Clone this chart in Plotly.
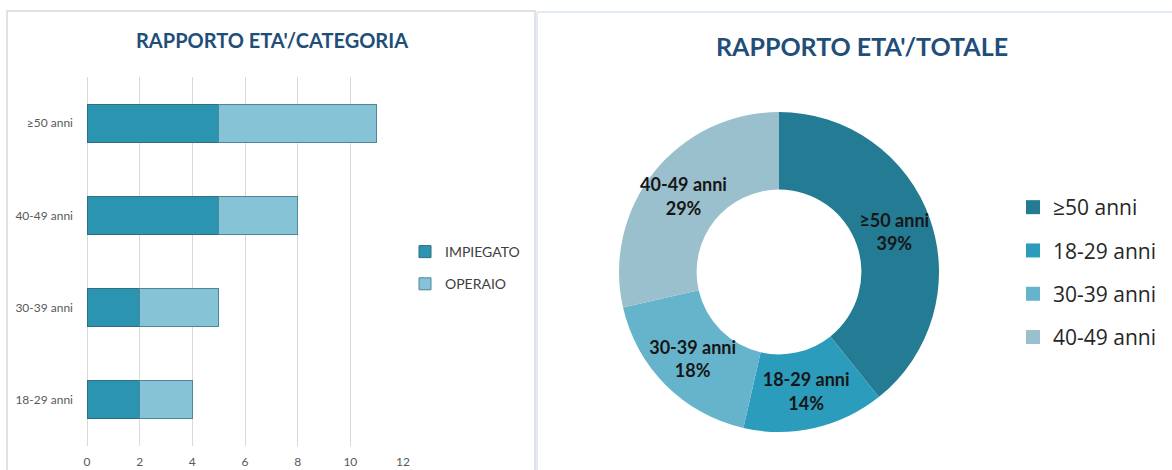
import plotly.graph_objects as go

W, H = 1172, 470

# ---- data ----
categories = ["18-29 anni", "30-39 anni", "40-49 anni", "≥50 anni"]
impiegato = [2, 2, 5, 5]
operaio = [2, 3, 3, 6]
x_ticks = [0, 2, 4, 6, 8, 10, 12]

pie_labels = ["≥50 anni", "18-29 anni", "30-39 anni", "40-49 anni"]
pie_values = [11, 4, 5, 8]
pie_colors = ["#237C94", "#2C9CBC", "#66B3CC", "#9BC0CD"]

col_imp = "#2B95B1"
col_ope = "#86C3D6"


def px_x(v):
    return v / W


def px_y(v):
    return 1 - v / H


fig = go.Figure()

fig.add_trace(go.Bar(
    y=categories, x=impiegato, name="IMPIEGATO", orientation="h",
    marker=dict(color=col_imp, line=dict(color="#2F6E80", width=1)),
    legendgroup="imp", hoverinfo="x+y+name",
))
fig.add_trace(go.Bar(
    y=categories, x=operaio, name="OPERAIO", orientation="h",
    marker=dict(color=col_ope, line=dict(color="#4E8797", width=1)),
    legendgroup="ope", hoverinfo="x+y+name",
))

# donut ring
fig.add_trace(go.Pie(
    labels=pie_labels, values=pie_values, hole=0.515, sort=False,
    direction="clockwise", rotation=0,
    marker=dict(colors=pie_colors, line=dict(width=0)),
    textinfo="none",
    domain=dict(x=[px_x(619), px_x(939)], y=[px_y(432), px_y(112)]),
    showlegend=False,
))

# transparent companion ring carrying the slice labels (same data, same centre)
fig.add_trace(go.Pie(
    labels=pie_labels, values=pie_values, hole=0.42, sort=False,
    direction="clockwise", rotation=0,
    marker=dict(colors=["rgba(0,0,0,0)"] * len(pie_values), line=dict(width=0)),
    texttemplate="%{label}<br>%{percent:.0%}",
    textposition="inside", insidetextorientation="horizontal",
    insidetextfont=dict(family="Lato", size=18, color="#161616", weight="bold"),
    domain=dict(x=[px_x(607), px_x(951)], y=[px_y(444), px_y(100)]),
    showlegend=False, hoverinfo="skip",
))

# legend entries for the donut
for lab, c in zip(pie_labels, pie_colors):
    fig.add_trace(go.Scatter(
        x=[None], y=[None], mode="markers", name=lab,
        marker=dict(symbol="square", size=14, color=c),
        legend="legend2", legendgroup=lab, hoverinfo="skip",
    ))

fig.update_layout(
    width=W, height=H,
    margin=dict(l=0, r=0, t=0, b=0, autoexpand=False),
    paper_bgcolor="white", plot_bgcolor="white",
    barmode="stack", bargap=0.59,
    xaxis=dict(
        domain=[px_x(87), px_x(403)], range=[0, 12], tickvals=x_ticks,
        showgrid=True, gridcolor="#D9D9D9", gridwidth=1,
        zeroline=True, zerolinecolor="#D9D9D9", zerolinewidth=1,
        showline=False, ticks="", ticklabelstandoff=7,
        tickfont=dict(family="Lato", size=12, color="#595959"),
        fixedrange=True,
    ),
    yaxis=dict(
        domain=[px_y(446), px_y(77)], categoryorder="array", categoryarray=categories,
        showgrid=False, zeroline=False, showline=False, ticks="",
        tickfont=dict(family="Lato", size=12, color="#595959"),
        ticklabelstandoff=13,
        fixedrange=True,
    ),
    legend=dict(
        x=px_x(405), y=px_y(236), xanchor="left", yanchor="top",
        font=dict(family="Lato", size=14, color="#404040"),
        traceorder="grouped", tracegroupgap=11,
        bgcolor="rgba(0,0,0,0)",
    ),
    legend2=dict(
        x=px_x(1013), y=px_y(187), xanchor="left", yanchor="top",
        font=dict(family="Open Sans", size=21, color="#262626"),
        traceorder="grouped", tracegroupgap=13,
        bgcolor="rgba(0,0,0,0)",
    ),
    annotations=[
        dict(text="RAPPORTO ETA'/CATEGORIA", x=px_x(272), y=px_y(40),
             xref="paper", yref="paper", showarrow=False,
             xanchor="center", yanchor="middle",
             font=dict(family="Lato", size=20, color="#1F4E79", weight="bold")),
        dict(text="RAPPORTO ETA'/TOTALE", x=px_x(862), y=px_y(46),
             xref="paper", yref="paper", showarrow=False,
             xanchor="center", yanchor="middle",
             font=dict(family="Lato", size=25, color="#1F4E79", weight="bold")),
    ],
    shapes=[
        dict(type="rect", xref="paper", yref="paper",
             x0=px_x(7), x1=px_x(535), y0=px_y(480), y1=px_y(11),
             line=dict(color="#D9D9D9", width=1.5), fillcolor="rgba(0,0,0,0)", layer="below"),
        dict(type="line", xref="paper", yref="paper",
             x0=px_x(537), x1=px_x(537), y0=px_y(480), y1=px_y(12),
             line=dict(color="#DAE6F2", width=1.5)),
        dict(type="line", xref="paper", yref="paper",
             x0=px_x(537), x1=px_x(1180), y0=px_y(12), y1=px_y(12),
             line=dict(color="#DAE6F2", width=1.5)),
    ],
)

fig.write_html(
    "out.html",
    config={"displayModeBar": False},
    post_script="document.body.style.margin='0';document.body.style.overflow='hidden';",
)
